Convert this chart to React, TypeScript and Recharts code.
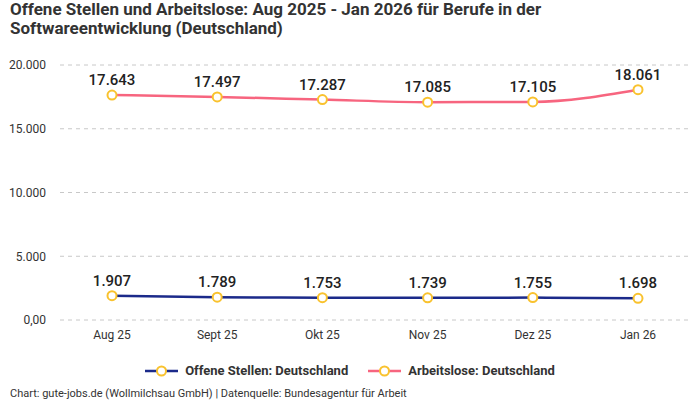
import React from "react"
import { LineChart, Line, XAxis, YAxis, CartesianGrid, LabelList } from "recharts"

const months = ["Aug 25", "Sept 25", "Okt 25", "Nov 25", "Dez 25", "Jan 26"]
const offeneStellen = [1907, 1789, 1753, 1739, 1755, 1698]
const arbeitslose = [17643, 17497, 17287, 17085, 17105, 18061]
const yTicks = [0, 5000, 10000, 15000, 20000]

const data = months.map((month, i) => ({
  month,
  offen: offeneStellen[i],
  arbeitslos: arbeitslose[i],
}))

const NAVY = "#1b2a8a"
const PINK = "#f7657f"
const YELLOW = "#f9c22e"
const FONT = "Roboto, 'Noto Sans', sans-serif"

const fmt = (v: number) => (v === 0 ? "0,00" : v.toLocaleString("de-DE"))

const LegendItem = ({ color, label }: { color: string; label: string }) => (
  <div style={{ display: "flex", alignItems: "center", margin: "0 10px" }}>
    <svg width={33} height={12} style={{ marginRight: 7 }}>
      <line x1={0} y1={6} x2={33} y2={6} stroke={color} strokeWidth={2.5} />
      <circle cx={16.5} cy={6} r={4.5} fill="#fff" stroke={YELLOW} strokeWidth={2} />
    </svg>
    <span style={{ fontWeight: 700, fontSize: 13, color: "#333" }}>{label}</span>
  </div>
)

export default function App() {
  return (
    <div style={{ position: "relative", width: 700, height: 400, fontFamily: FONT, background: "#fff" }}>
      <style>{"body{margin:0}"}</style>
      <div
        style={{
          position: "absolute",
          left: 10,
          top: 0,
          fontSize: 17,
          fontWeight: 700,
          lineHeight: "19px",
          color: "#333",
        }}
      >
        Offene Stellen und Arbeitslose: Aug 2025 - Jan 2026 für Berufe in der
        <br />
        Softwareentwicklung (Deutschland)
      </div>
      <div style={{ position: "absolute", left: 0, top: 0 }}>
        <LineChart width={700} height={400} data={data} margin={{ top: 65, right: 10, bottom: 50, left: 10 }}>
          <CartesianGrid vertical={false} stroke="#c8c8c8" strokeDasharray="4 4" />
          <XAxis
            dataKey="month"
            axisLine={false}
            tickLine={false}
            tickSize={0}
            tickMargin={10}
            height={30}
            padding={{ left: 52, right: 52 }}
            tick={{ fill: "#333", fontSize: 12, fontFamily: FONT }}
          />
          <YAxis
            domain={[0, 20000]}
            ticks={yTicks}
            width={50}
            axisLine={false}
            tickLine={false}
            tickSize={0}
            tickMargin={14}
            tickFormatter={fmt}
            tick={{ fill: "#333", fontSize: 12, fontFamily: FONT }}
          />
          <Line
            type="monotone"
            dataKey="arbeitslos"
            stroke={PINK}
            strokeWidth={2.5}
            dot={{ r: 4.5, fill: "#fff", stroke: YELLOW, strokeWidth: 2 }}
            isAnimationActive={false}
          >
            <LabelList
              dataKey="arbeitslos"
              position="top"
              offset={10}
              formatter={(v: any) => fmt(Number(v))}
              style={{ fill: "#222", fontSize: 15, fontWeight: 500, fontFamily: FONT }}
            />
          </Line>
          <Line
            type="monotone"
            dataKey="offen"
            stroke={NAVY}
            strokeWidth={2.5}
            dot={{ r: 4.5, fill: "#fff", stroke: YELLOW, strokeWidth: 2 }}
            isAnimationActive={false}
          >
            <LabelList
              dataKey="offen"
              position="top"
              offset={10}
              formatter={(v: any) => fmt(Number(v))}
              style={{ fill: "#222", fontSize: 15, fontWeight: 500, fontFamily: FONT }}
            />
          </Line>
        </LineChart>
      </div>
      <div
        style={{
          position: "absolute",
          left: 0,
          width: 700,
          top: 363,
          display: "flex",
          justifyContent: "center",
        }}
      >
        <LegendItem color={NAVY} label="Offene Stellen: Deutschland" />
        <LegendItem color={PINK} label="Arbeitslose: Deutschland" />
      </div>
      <div style={{ position: "absolute", left: 10, top: 387, fontSize: 11, color: "#333" }}>
        Chart: gute-jobs.de (Wollmilchsau GmbH) | Datenquelle: Bundesagentur für Arbeit
      </div>
    </div>
  )
}
